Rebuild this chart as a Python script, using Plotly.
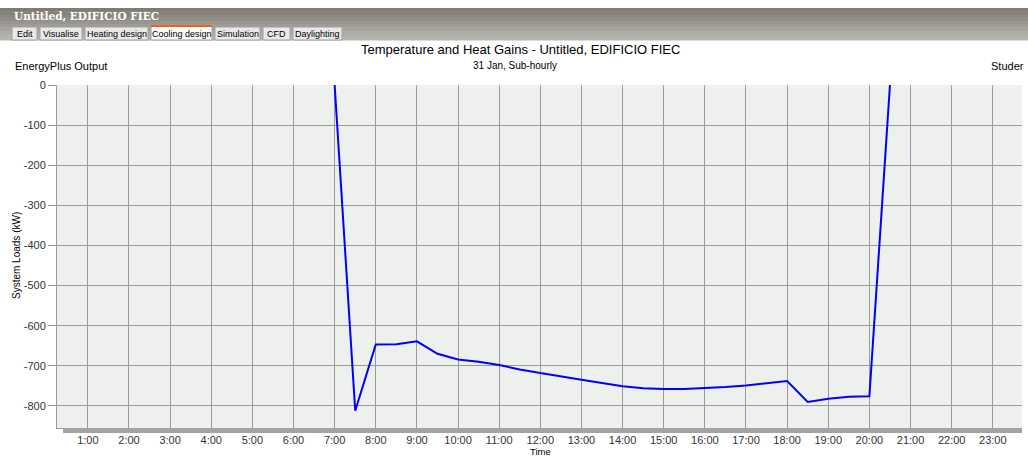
import plotly.graph_objects as go

# ---- data ----
hours = [7.0, 7.5, 8.0, 8.5, 9.0, 9.5, 10.0, 10.5, 11.0, 11.5, 12.0, 12.5, 13.0, 13.5,
         14.0, 14.5, 15.0, 15.5, 16.0, 16.5, 17.0, 17.5, 18.0, 18.5, 19.0, 19.5, 20.0, 20.5]
system_loads = [0, -812, -647, -646, -639, -670, -684, -690, -698, -709, -718, -727, -735, -743,
                -751, -756, -758, -758, -756, -753, -749, -744, -738, -790, -782, -777, -776, 0]
tick_vals = list(range(1, 24))
tick_text = [f"{h}:00" for h in tick_vals]
y_ticks = [0, -100, -200, -300, -400, -500, -600, -700, -800]
y_tick_text = ["0", "-100", "-200", "-300", "-400", "-500", "-600", "-700", "-800"]
tabs = ["Edit", "Visualise", "Heating design", "Cooling design", "Simulation", "CFD", "Daylighting"]
tab_x = [(12, 37), (40, 82), (85, 148), (151, 212), (215, 260), (263, 290), (293, 342)]

W, H = 1028, 458
L, R, T, B = 57, 1022, 85, 428
FONT = "Liberation Sans, Arial, sans-serif"


def px(x):
    return (x - L) / (R - L)


def py(y):
    return (B - y) / (B - T)


fig = go.Figure()
fig.add_trace(go.Scatter(x=hours, y=system_loads, mode="lines",
                         line=dict(color="#0000ff", width=2), cliponaxis=True,
                         showlegend=False, hoverinfo="x+y"))

shapes = []
annotations = []

# header gradient
grad = ["#807b73", "#85807a", "#8b8780", "#918e87", "#98958e", "#9f9c96",
        "#a5a39d", "#abaaa4", "#b1b0aa", "#b6b5b0"]
y0 = 8
step = 32 / len(grad)
for i, c in enumerate(grad):
    shapes.append(dict(type="rect", xref="paper", yref="paper",
                       x0=px(0), x1=px(W), y0=py(y0 + i * step), y1=py(y0 + (i + 1) * step + 0.5),
                       fillcolor=c, line=dict(width=0), layer="above"))
annotations.append(dict(text="<b>Untitled, EDIFICIO FIEC</b>", xref="paper", yref="paper",
                        x=px(12), y=py(16), xanchor="left", yanchor="middle", showarrow=False,
                        font=dict(family="DejaVu Serif, Georgia, serif", size=10.5, color="#ffffff")))

# tabs
for name, (a, b) in zip(tabs, tab_x):
    active = name == "Cooling design"
    shapes.append(dict(type="rect", xref="paper", yref="paper",
                       x0=px(a), x1=px(b), y0=py(40), y1=py(26 if active else 27),
                       fillcolor="#fafafa" if active else "#e9e9e9",
                       line=dict(color="#a0a0a0", width=1), layer="above"))
    if active:
        shapes.append(dict(type="rect", xref="paper", yref="paper",
                           x0=px(a), x1=px(b), y0=py(27), y1=py(25),
                           fillcolor="#e8641b", line=dict(width=0), layer="above"))
    annotations.append(dict(text=name, xref="paper", yref="paper", x=px((a + b) / 2), y=py(34),
                            xanchor="center", yanchor="middle", showarrow=False,
                            font=dict(family=FONT, size=9, color="#000000")))

# titles
annotations += [
    dict(text="Temperature and Heat Gains - Untitled, EDIFICIO FIEC", xref="paper", yref="paper",
         x=px(520), y=py(49), xanchor="center", yanchor="middle", showarrow=False,
         font=dict(family=FONT, size=13, color="#000000")),
    dict(text="EnergyPlus Output", xref="paper", yref="paper", x=px(13), y=py(66),
         xanchor="left", yanchor="middle", showarrow=False,
         font=dict(family=FONT, size=11, color="#000000")),
    dict(text="31 Jan, Sub-hourly", xref="paper", yref="paper", x=px(515), y=py(66),
         xanchor="center", yanchor="middle", showarrow=False,
         font=dict(family=FONT, size=10, color="#000000")),
    dict(text="Studer", xref="paper", yref="paper", x=px(1026), y=py(66),
         xanchor="right", yanchor="middle", showarrow=False,
         font=dict(family=FONT, size=11, color="#000000")),
    dict(text="System Loads (kW)", xref="paper", yref="paper", x=px(17), y=py(256),
         xanchor="center", yanchor="middle", showarrow=False, textangle=-90,
         font=dict(family=FONT, size=10, color="#000000")),
    dict(text="Time", xref="paper", yref="paper", x=px(540), y=py(458),
         xanchor="center", yanchor="bottom", showarrow=False, borderpad=0,
         font=dict(family=FONT, size=9.5, color="#000000")),
]

# 3D floor shadow bar
shapes.append(dict(type="rect", xref="paper", yref="paper", x0=px(63), x1=px(1022),
                   y0=py(433), y1=py(428), fillcolor="#a3a3a3", line=dict(width=0), layer="above"))

fig.update_layout(
    width=W, height=H,
    margin=dict(l=L, r=W - R, t=T, b=H - B, pad=0),
    paper_bgcolor="#ffffff", plot_bgcolor="#eef0ee",
    font=dict(family=FONT, size=11, color="#333333"),
    shapes=shapes, annotations=annotations,
    xaxis=dict(range=[0.25, 23.71], tickvals=tick_vals, ticktext=tick_text,
               showgrid=True, gridcolor="#9a9a9a", gridwidth=1, zeroline=False,
               showline=True, linecolor="#9a9a9a", ticks="outside", ticklen=2,
               tickcolor="#9a9a9a", tickfont=dict(size=11, color="#333333"), fixedrange=True),
    yaxis=dict(range=[-855, 0], tickvals=y_ticks, ticktext=y_tick_text, showgrid=True,
               gridcolor="#9a9a9a", gridwidth=1, zeroline=False, showline=True,
               linecolor="#9a9a9a", ticks="outside", ticklen=8, tickcolor="#9a9a9a",
               tickfont=dict(size=11, color="#333333"), fixedrange=True),
)

fig.write_html("out.html", config={"displayModeBar": False},
               post_script="document.body.style.margin='0';document.body.style.overflow='hidden';")
